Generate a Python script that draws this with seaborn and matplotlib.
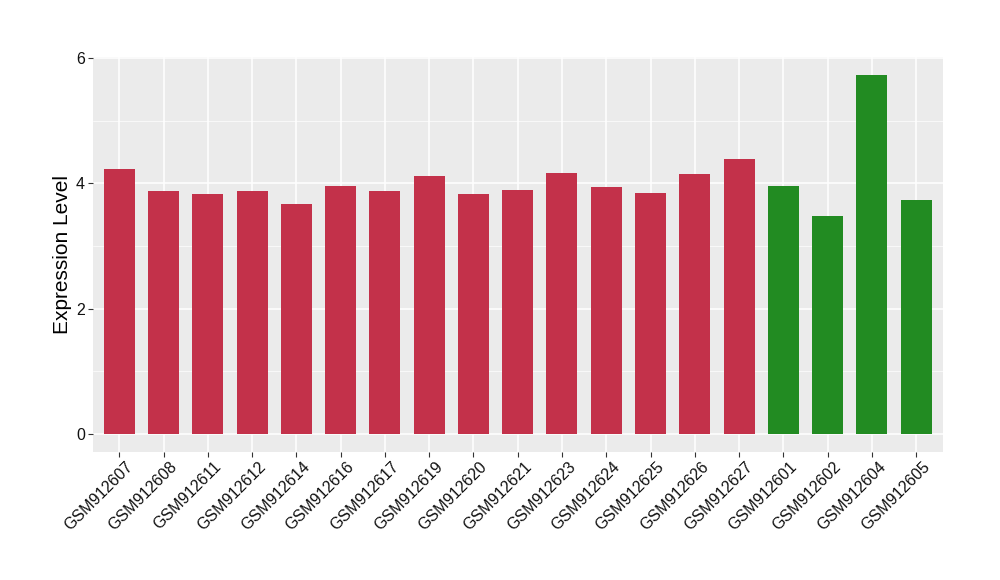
import matplotlib
matplotlib.use("Agg")
import matplotlib.pyplot as plt
import matplotlib.transforms as mtransforms
import seaborn as sns
import pandas as pd

samples = ["GSM912607", "GSM912608", "GSM912611", "GSM912612", "GSM912614", "GSM912616",
           "GSM912617", "GSM912619", "GSM912620", "GSM912621", "GSM912623", "GSM912624",
           "GSM912625", "GSM912626", "GSM912627", "GSM912601", "GSM912602", "GSM912604",
           "GSM912605"]
values = [4.23, 3.88, 3.83, 3.87, 3.67, 3.95, 3.88, 4.12, 3.83, 3.90, 4.16, 3.94,
          3.85, 4.15, 4.39, 3.96, 3.48, 5.73, 3.73]
groups = ["A"] * 15 + ["B"] * 4
palette = {"A": "#C3314A", "B": "#228B22"}

df = pd.DataFrame({"sample": samples, "value": values, "group": groups})

sns.set_theme(style="darkgrid")
plt.rcParams["font.family"] = ["Liberation Sans", "DejaVu Sans"]

fig = plt.figure(figsize=(10, 5.8), dpi=100)
ax = fig.add_axes([0.0927, 1 - 451.7 / 580, (942.7 - 92.7) / 1000, (451.7 - 57) / 580])
ax.set_facecolor("#EBEBEB")

sns.barplot(data=df, x="sample", y="value", hue="group", palette=palette,
            width=0.7, dodge=False, legend=False, ax=ax, saturation=1,
            edgecolor="none", linewidth=0)

n = len(samples)
ax.set_xlim(-0.6, n - 1 + 0.6)
ymax = max(values)
ax.set_ylim(-0.05 * ymax, ymax * 1.05)
ax.set_yticks([0, 2, 4, 6])
ax.set_yticks([1, 3, 5], minor=True)
ax.grid(which="major", color="white", linewidth=1.1)
ax.grid(which="minor", axis="y", color="white", linewidth=0.5)
ax.set_axisbelow(True)
for s in ax.spines.values():
    s.set_visible(False)

ax.tick_params(axis="x", which="major", bottom=True)
ax.tick_params(axis="y", which="major", left=True)
ax.tick_params(axis="both", which="major", length=3.5, width=0.8, color="#333333",
               labelsize=11.5, labelcolor="#111111", pad=2)
ax.tick_params(axis="y", which="minor", length=0, left=False)
offset = mtransforms.ScaledTranslation(6 / 100, 0, fig.dpi_scale_trans)
for lbl in ax.get_xticklabels():
    lbl.set_rotation(45)
    lbl.set_ha("right")
    lbl.set_rotation_mode("anchor")
    lbl.set_transform(lbl.get_transform() + offset)
ax.set_xlabel("")
ax.set_ylabel("Expression Level", fontsize=15, color="black", labelpad=3)

fig.savefig("out.png", dpi=100)
